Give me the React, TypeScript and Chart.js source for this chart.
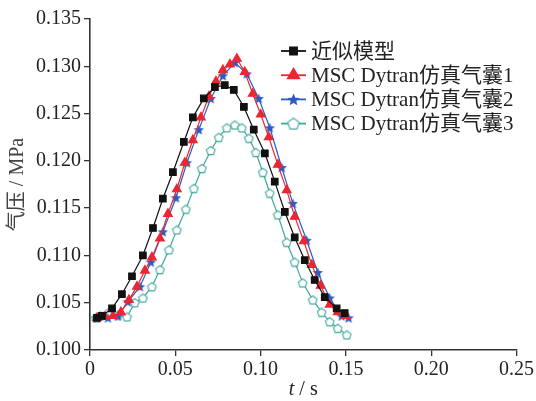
import React, { useEffect, useRef } from "react";
import { Chart, registerables } from "chart.js";
import { drawPoint } from "chart.js/helpers";

Chart.register(...registerables);

const seriesLabels = ["近似模型", "MSC Dytran仿真气囊1", "MSC Dytran仿真气囊2", "MSC Dytran仿真气囊3"];

const approxT = [0.0041, 0.007, 0.0129, 0.0187, 0.0246, 0.031, 0.0369, 0.0427, 0.0486, 0.055, 0.0603, 0.0667, 0.0732, 0.079, 0.0843, 0.0902, 0.096, 0.1025, 0.1083, 0.1142, 0.12, 0.1259, 0.1317, 0.1376, 0.1446, 0.1493];
const approxP = [0.1034, 0.1036, 0.1044, 0.1059, 0.1078, 0.11, 0.1129, 0.116, 0.1188, 0.122, 0.1246, 0.1266, 0.1278, 0.128, 0.1275, 0.1257, 0.1233, 0.1208, 0.1178, 0.1146, 0.1119, 0.1095, 0.1074, 0.1056, 0.1044, 0.1039];

const bag1T = [0.0041, 0.0088, 0.0135, 0.0181, 0.0228, 0.0275, 0.0322, 0.0363, 0.041, 0.0457, 0.0509, 0.0556, 0.0603, 0.065, 0.0697, 0.0738, 0.0779, 0.082, 0.0861, 0.0907, 0.0954, 0.1001, 0.1048, 0.1101, 0.1153, 0.12, 0.1253, 0.13, 0.1352, 0.1405, 0.1452, 0.1499];
const bag1P = [0.1034, 0.1035, 0.1036, 0.104, 0.1053, 0.1067, 0.1084, 0.1098, 0.1118, 0.1144, 0.117, 0.1198, 0.1222, 0.1246, 0.1268, 0.1284, 0.1296, 0.1302, 0.1308, 0.1294, 0.1271, 0.1249, 0.1225, 0.1196, 0.1169, 0.1141, 0.1115, 0.109, 0.1068, 0.1048, 0.104, 0.1036];

const bag2T = [0.0041, 0.0105, 0.0164, 0.0222, 0.0293, 0.0357, 0.0427, 0.0504, 0.0568, 0.0638, 0.0708, 0.0779, 0.0849, 0.0919, 0.0989, 0.1054, 0.1124, 0.1189, 0.127, 0.1335, 0.1405, 0.1475, 0.1516];
const bag2P = [0.1034, 0.1034, 0.1036, 0.1051, 0.1067, 0.1093, 0.1125, 0.1161, 0.1198, 0.1233, 0.1266, 0.129, 0.1304, 0.1292, 0.1266, 0.1235, 0.1193, 0.1155, 0.1116, 0.1082, 0.1055, 0.1036, 0.1034];

const bag3T = [0.0035, 0.0059, 0.0105, 0.0164, 0.0217, 0.0263, 0.031, 0.0363, 0.041, 0.0463, 0.0509, 0.0562, 0.0609, 0.0656, 0.0708, 0.0755, 0.0802, 0.0849, 0.089, 0.0931, 0.0972, 0.1013, 0.1054, 0.1101, 0.1153, 0.12, 0.1247, 0.1306, 0.1358, 0.1405, 0.1452, 0.1505];
const bag3P = [0.1034, 0.1036, 0.1039, 0.1037, 0.1035, 0.105, 0.1055, 0.1067, 0.1085, 0.1106, 0.1127, 0.1149, 0.1171, 0.1192, 0.1211, 0.1225, 0.1235, 0.1238, 0.1235, 0.1224, 0.1209, 0.1188, 0.1166, 0.1143, 0.1114, 0.1093, 0.1071, 0.1053, 0.104, 0.103, 0.1023, 0.1016];

const xTickLabels = ["0", "0.05", "0.10", "0.15", "0.20", "0.25"];
const yTickLabels = ["0.100", "0.105", "0.110", "0.115", "0.120", "0.125", "0.130", "0.135"];
const xTitleItalic = "t";
const xTitleRest = " / s";
const yTitle = "气压 / MPa";

const FONT = '"Liberation Serif", "Noto Sans CJK SC", serif';
const BLACK = "#111111";
const RED = "#ec2630";
const BLUE = "#2b5cc0";
const TEAL = "#3fa89c";

function makeStar(color: string, size: number) {
  const c = document.createElement("canvas");
  c.width = size;
  c.height = size;
  const ctx = c.getContext("2d")!;
  const cx = size / 2, cy = size / 2 + 0.5, R = size / 2, r = R * 0.45;
  ctx.beginPath();
  for (let i = 0; i < 10; i++) {
    const a = -Math.PI / 2 + (i * Math.PI) / 5;
    const rr = i % 2 ? r : R;
    ctx.lineTo(cx + rr * Math.cos(a), cy + rr * Math.sin(a));
  }
  ctx.closePath();
  ctx.fillStyle = color;
  ctx.fill();
  return c;
}

function makePentagon(color: string, size: number) {
  const c = document.createElement("canvas");
  c.width = size;
  c.height = size;
  const ctx = c.getContext("2d")!;
  const cx = size / 2, cy = size / 2 + 0.5, R = size / 2 - 1;
  ctx.beginPath();
  for (let i = 0; i < 5; i++) {
    const a = -Math.PI / 2 + (i * 2 * Math.PI) / 5;
    ctx.lineTo(cx + R * Math.cos(a), cy + R * Math.sin(a));
  }
  ctx.closePath();
  ctx.fillStyle = "#ffffff";
  ctx.fill();
  ctx.lineWidth = 1.1;
  ctx.strokeStyle = color;
  ctx.stroke();
  return c;
}

function toXY(t: number[], p: number[]) {
  return t.map((v, i) => ({ x: v, y: p[i] }));
}

export default function App() {
  const ref = useRef<HTMLCanvasElement | null>(null);

  useEffect(() => {
    const canvas = ref.current!;
    const star = makeStar(BLUE, 11);
    const pent = makePentagon(TEAL, 11);
    const legendStar = makeStar(BLUE, 13);
    const legendPent = makePentagon(TEAL, 14);
    const legendStyles: any[] = ["rect", "triangle", legendStar, legendPent];
    const legendRadii = [5, 6.5, 6, 6];

    const titlesAndLegend = {
      id: "titlesAndLegend",
      afterDraw(chart: any) {
        const ctx = chart.ctx as CanvasRenderingContext2D;
        const area = chart.chartArea;
        ctx.save();
        ctx.fillStyle = "#222";
        ctx.textBaseline = "middle";
        // x title
        ctx.font = `italic 20px ${FONT}`;
        const w1 = ctx.measureText(xTitleItalic).width;
        ctx.font = `20px ${FONT}`;
        const w2 = ctx.measureText(xTitleRest).width;
        const cx = (area.left + area.right) / 2;
        const sx = cx - (w1 + w2) / 2;
        ctx.textAlign = "left";
        ctx.font = `italic 20px ${FONT}`;
        ctx.fillText(xTitleItalic, sx, 390);
        ctx.font = `20px ${FONT}`;
        ctx.fillText(xTitleRest, sx + w1, 390);
        // y title
        ctx.save();
        ctx.translate(18, (area.top + area.bottom) / 2);
        ctx.rotate(-Math.PI / 2);
        ctx.textAlign = "center";
        ctx.fillStyle = "#444";
        ctx.fillText(yTitle, 0, 0);
        ctx.restore();
        // legend
        const rowY0 = 51;
        const rowStep = 24.2;
        chart.data.datasets.forEach((ds: any, i: number) => {
          const y = rowY0 + i * rowStep;
          ctx.strokeStyle = ds.borderColor;
          ctx.lineWidth = 1.8;
          ctx.beginPath();
          ctx.moveTo(281, y);
          ctx.lineTo(306, y);
          ctx.stroke();
          ctx.fillStyle = ds.pointBackgroundColor;
          ctx.strokeStyle = ds.pointBorderColor;
          drawPoint(ctx, {
            pointStyle: legendStyles[i],
            radius: legendRadii[i],
            rotation: 0,
            borderWidth: 1,
          } as any, 293.5, y);
          ctx.fillStyle = "#222";
          ctx.font = `21px ${FONT}`;
          ctx.textAlign = "left";
          ctx.textBaseline = "middle";
          ctx.fillText(ds.label, 311, y + 1);
        });
        ctx.restore();
      },
    };

    const chart = new Chart(canvas, {
      type: "line",
      data: {
        datasets: [
          {
            label: seriesLabels[0],
            data: toXY(approxT, approxP),
            borderColor: BLACK,
            backgroundColor: BLACK,
            pointBackgroundColor: BLACK,
            pointBorderColor: BLACK,
            pointStyle: "rect",
            pointRadius: 4.6,
            borderWidth: 1.2,
            tension: 0,
          },
          {
            label: seriesLabels[1],
            data: toXY(bag1T, bag1P),
            borderColor: RED,
            backgroundColor: RED,
            pointBackgroundColor: RED,
            pointBorderColor: RED,
            pointStyle: "triangle",
            pointRadius: 5,
            borderWidth: 1.2,
            tension: 0,
          },
          {
            label: seriesLabels[2],
            data: toXY(bag2T, bag2P),
            borderColor: BLUE,
            backgroundColor: BLUE,
            pointBackgroundColor: BLUE,
            pointBorderColor: BLUE,
            pointStyle: star as any,
            pointRadius: 5,
            borderWidth: 1.2,
            tension: 0,
          },
          {
            label: seriesLabels[3],
            data: toXY(bag3T, bag3P),
            borderColor: TEAL,
            backgroundColor: TEAL,
            pointBackgroundColor: "#ffffff",
            pointBorderColor: TEAL,
            pointStyle: pent as any,
            pointRadius: 5,
            borderWidth: 1.2,
            tension: 0,
          },
        ],
      } as any,
      options: {
        responsive: false,
        maintainAspectRatio: false,
        animation: false,
        layout: { padding: { top: 19, right: 19, left: 0, bottom: 0 } },
        plugins: {
          legend: { display: false },
          tooltip: { enabled: false },
        },
        scales: {
          x: {
            type: "linear",
            min: 0,
            max: 0.25,
            afterFit: (s: any) => {
              s.height = 51;
            },
            ticks: {
              stepSize: 0.05,
              color: "#222",
              font: { family: FONT, size: 20 },
              padding: 2,
              maxRotation: 0,
              callback: (v: any) => xTickLabels[Math.round(Number(v) / 0.05)] ?? "",
            },
            grid: {
              drawOnChartArea: false,
              drawTicks: true,
              tickLength: 6,
              color: "#333",
              lineWidth: 1.3,
            },
            border: { display: true, color: "#333", width: 1.6 },
          },
          y: {
            type: "linear",
            min: 0.1,
            max: 0.135,
            afterFit: (s: any) => {
              s.width = 90;
            },
            ticks: {
              stepSize: 0.005,
              color: "#222",
              font: { family: FONT, size: 20 },
              padding: 3,
              callback: (v: any) => yTickLabels[Math.round((Number(v) - 0.1) / 0.005)] ?? "",
            },
            grid: {
              drawOnChartArea: false,
              drawTicks: true,
              tickLength: 6,
              color: "#333",
              lineWidth: 1.3,
            },
            border: { display: true, color: "#333", width: 1.6 },
          },
        },
      } as any,
      plugins: [titlesAndLegend],
    });

    return () => chart.destroy();
  }, []);

  return (
    <div style={{ position: "absolute", left: 0, top: 0, width: 536, height: 401, background: "#fff" }}>
      <canvas ref={ref} width={536} height={401} style={{ width: 536, height: 401, display: "block" }} />
    </div>
  );
}
